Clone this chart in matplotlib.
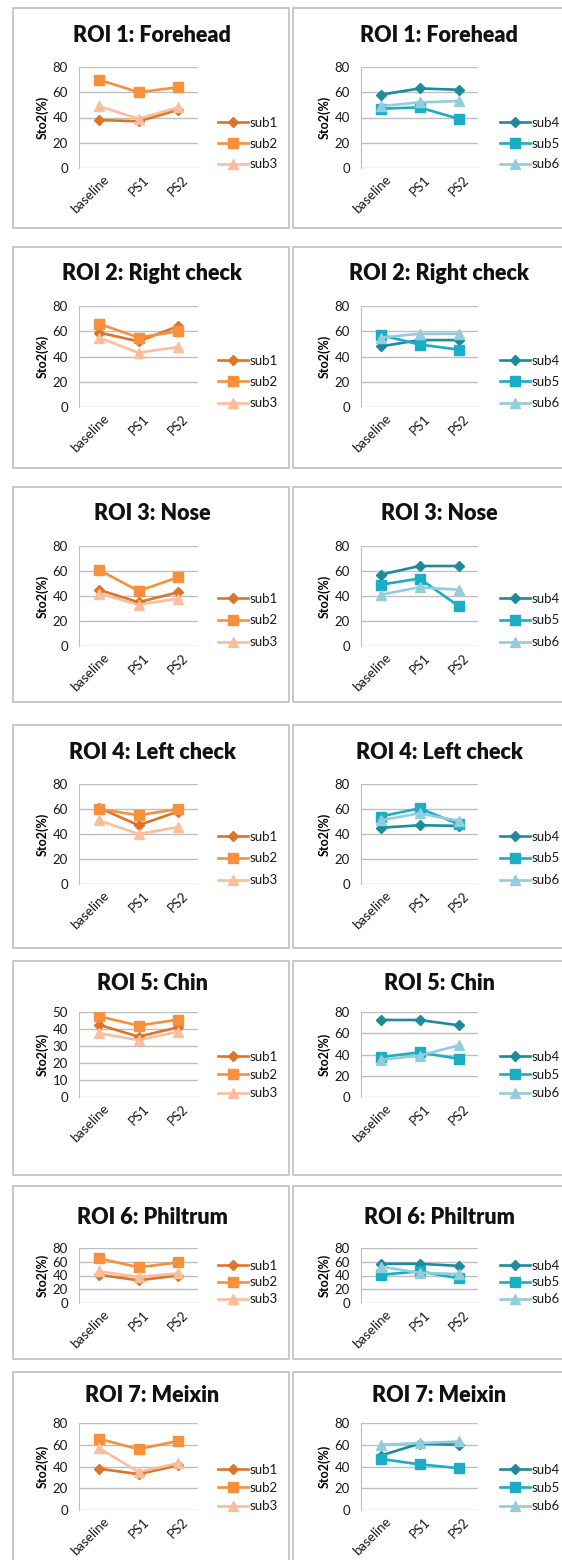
import matplotlib
matplotlib.use("Agg")
import matplotlib.pyplot as plt
import matplotlib.transforms as mtransforms
from matplotlib.patches import Rectangle

plt.rcParams['font.family'] = ['Lato', 'DejaVu Sans']

W, H = 562, 1560

categories = ['baseline', 'PS1', 'PS2']
titles = ['ROI 1: Forehead', 'ROI 2: Right check', 'ROI 3: Nose',
          'ROI 4: Left check', 'ROI 5: Chin', 'ROI 6: Philtrum',
          'ROI 7: Meixin']

# StO2 (%) per ROI, one row per ROI: baseline, PS1, PS2
sub1 = [[38, 37, 46], [59, 52, 64], [45, 35, 43], [61, 47, 58],
        [42.5, 35.5, 41], [41, 33, 40], [38, 33, 41]]
sub2 = [[70, 60, 64], [66, 55, 60], [61, 44, 55], [60, 55, 60],
        [47.5, 42, 45.5], [65, 52, 59], [65.5, 56, 63.5]]
sub3 = [[49, 39, 48], [55, 43, 47.5], [42, 33, 38], [51, 40, 45.5],
        [37.5, 33.5, 38.5], [46, 38, 43], [57, 35, 43]]
sub4 = [[58, 63, 62], [48, 53, 53], [57, 64, 64], [45, 47, 46.5],
        [72.5, 72.5, 67.5], [57, 57, 54], [50, 61, 60]]
sub5 = [[47, 48, 39], [57, 49.5, 45.5], [49, 54, 32], [54, 60.5, 48],
        [37.5, 42, 36], [41, 46, 36], [47, 42, 38.5]]
sub6 = [[49, 52, 53], [55, 58, 58], [41, 47, 45], [51, 56.5, 50.5],
        [35, 39, 48.5], [53, 44, 42], [60, 61.5, 63]]

# y axis top per ROI (left group, right group)
ymax_left = [80, 80, 80, 80, 50, 80, 80]
ymax_right = [80, 80, 80, 80, 80, 80, 80]

# row geometry in pixels: plot top, plot bottom, title y, box top, box bottom, legend spacing
rows = [
    (67, 168, 35, 8, 228, 24.5),
    (306, 407, 273, 247, 468, 25),
    (546, 646, 513, 487, 702, 25.5),
    (784, 884, 752, 725, 948, 25.5),
    (1012, 1097, 984, 961, 1175, 22),
    (1248, 1303, 1218, 1186, 1359, 20.5),
    (1423, 1510, 1395, 1372, 1570, 22),
]

orange = ['#dd7427', '#f7903c', '#fbbd9c']
teal = ['#1f8a9b', '#1aadc5', '#92cddc']
markers = ['D', 's', '^']
msizes = [5, 7, 7.5]
FS = 9.5

fig = plt.figure(figsize=(W / 100, H / 100), dpi=100)

def px_rect(x0, x1, ytop, ybot):
    return [x0 / W, 1 - ybot / H, (x1 - x0) / W, (ybot - ytop) / H]

def draw_panel(x0, x1, row, series, names, colors, ymax, title, tx, lx):
    top, bot, ty, btop, bbot, spacing = row
    ax = fig.add_axes(px_rect(x0, x1, top, bot))
    xs = range(len(categories))
    for vals, name, c, m, ms in zip(series, names, colors, markers, msizes):
        ax.plot(xs, vals, color=c, lw=1.9, marker=m, markersize=ms,
                markeredgecolor=c, label=name)
    ax.set_xlim(-0.5, 2.5)
    ax.set_ylim(0, ymax)
    step = 10 if ymax == 50 else 20
    ax.set_yticks(range(0, ymax + 1, step))
    ax.yaxis.grid(True, color='#bfbfbf', lw=1)
    ax.set_axisbelow(True)
    for s in ['top', 'right', 'bottom']:
        ax.spines[s].set_visible(False)
    ax.spines['left'].set_color('#bfbfbf')
    ax.tick_params(length=0, labelsize=FS, colors='#1a1a1a')
    ax.tick_params(axis='y', pad=8)
    ax.set_xticks(list(xs))
    ax.set_xticklabels(categories, rotation=45, ha='right', va='top',
                       rotation_mode='anchor')
    ax.tick_params(axis='x', pad=4)
    # nudge the slanted labels a little to the right
    shift = mtransforms.ScaledTranslation(4 / 100, 0, fig.dpi_scale_trans)
    for lab in ax.get_xticklabels():
        lab.set_transform(lab.get_transform() + shift)
    ax.set_ylabel('Sto2(%)', fontsize=9, fontweight='bold', labelpad=3)
    axh = bot - top
    fs_px = FS * 100 / 72
    ls = max((spacing - 1.2 * fs_px) / fs_px, 0.1)
    ax.legend(loc='center left',
              bbox_to_anchor=((lx - x0) / (x1 - x0), spacing / axh),
              frameon=False, borderaxespad=0, borderpad=0,
              handlelength=2.3, handletextpad=0.1, labelspacing=ls,
              fontsize=FS, labelcolor='#1a1a1a')
    fig.text(tx / W, 1 - ty / H, title, ha='center', va='center',
             fontsize=15.5, fontweight='heavy', color='#111111')

for i in range(7):
    row = rows[i]
    btop, bbot = row[3], row[4]
    # panel frames
    fig.patches.append(Rectangle((13 / W, 1 - bbot / H), (289 - 13) / W,
                                 (bbot - btop) / H, transform=fig.transFigure,
                                 fill=False, edgecolor='#c4c4c4', lw=1.3))
    fig.patches.append(Rectangle((293 / W, 1 - bbot / H), (600 - 293) / W,
                                 (bbot - btop) / H, transform=fig.transFigure,
                                 fill=False, edgecolor='#c4c4c4', lw=1.3))
    draw_panel(79, 198, row, [sub1[i], sub2[i], sub3[i]],
               ['sub1', 'sub2', 'sub3'], orange, ymax_left[i], titles[i],
               152, 218)
    draw_panel(361, 478, row, [sub4[i], sub5[i], sub6[i]],
               ['sub4', 'sub5', 'sub6'], teal, ymax_right[i], titles[i],
               439, 500)

fig.savefig('out.png', dpi=100)
